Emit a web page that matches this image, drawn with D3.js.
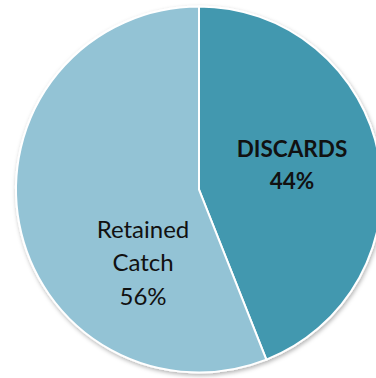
<!DOCTYPE html>
<html>
<head>
<meta charset="utf-8">
<script src="https://cdn.jsdelivr.net/npm/d3@7"></script>
<style>
  html, body { margin: 0; padding: 0; background: #fff; }
  svg { display: block; }
</style>
</head>
<body>
<div id="chart"></div>
<script>
// slice data
var categories = ["DISCARDS", "Retained Catch"];
var shares = [44, 56];
var labelLines = [["DISCARDS", "44%"], ["Retained", "Catch", "56%"]];
var sliceColors = ["#4398AF", "#93C3D5"];

var width = 376, height = 378;
var cx = 199, cy = 189.5, radius = 183;

var svg = d3.select("#chart").append("svg")
    .attr("width", width)
    .attr("height", height);

// soft shadow round the pie
var defs = svg.append("defs");
var shadow = defs.append("filter").attr("id", "shadow")
    .attr("x", "-10%").attr("y", "-10%").attr("width", "120%").attr("height", "120%");
shadow.append("feDropShadow")
    .attr("dx", 1).attr("dy", 2).attr("stdDeviation", 2)
    .attr("flood-color", "#000").attr("flood-opacity", 0.3);

var pie = d3.pie().sort(null).value(function(d) { return d; });
var arc = d3.arc().innerRadius(0).outerRadius(radius);

var g = svg.append("g").attr("transform", "translate(" + cx + "," + cy + ")");

var arcs = pie(shares);

g.append("g").attr("filter", "url(#shadow)")
  .selectAll("path")
  .data(arcs)
  .enter().append("path")
    .attr("d", arc)
    .attr("fill", function(d, i) { return sliceColors[i]; })
    .attr("stroke", "#fff")
    .attr("stroke-width", 2);

// label spots (relative to centre)
var labelPos = [[93, -33], [-56, 48]];
var lineGap = [32, 33.5];

arcs.forEach(function(d, i) {
  var t = g.append("text")
      .attr("text-anchor", "middle")
      .attr("font-family", "Lato, 'Open Sans', sans-serif")
      .attr("font-size", i === 0 ? 22.5 : 24)
      .attr("font-weight", i === 0 ? "bold" : "normal")
      .attr("fill", "#111");
  labelLines[i].forEach(function(line, j) {
    t.append("tspan")
      .attr("x", labelPos[i][0])
      .attr("y", labelPos[i][1] + j * lineGap[i])
      .text(line);
  });
});
</script>
</body>
</html>
